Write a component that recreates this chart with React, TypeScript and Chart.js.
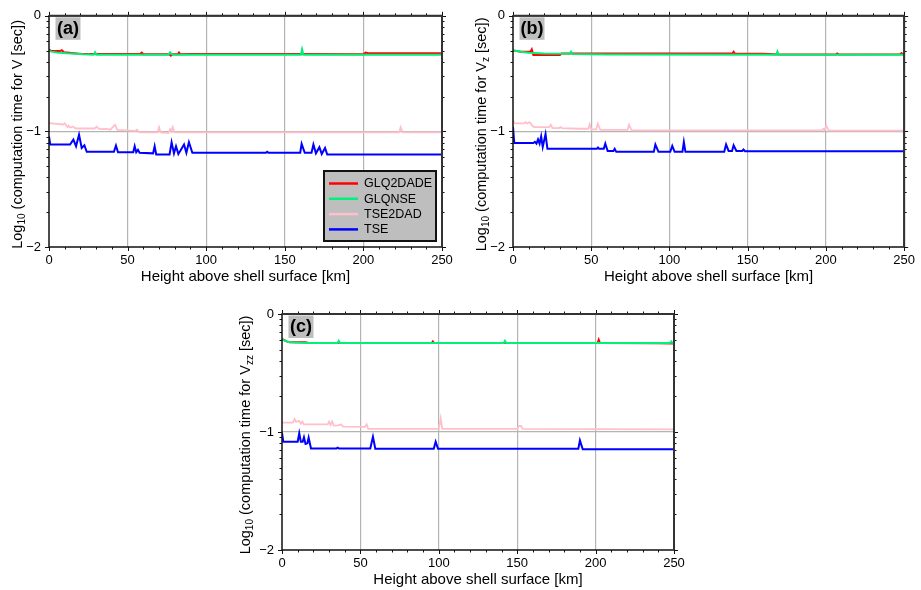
import { useEffect, useRef } from 'react';
import { Chart, registerables } from 'chart.js';

Chart.register(...registerables);

const FONT = '"Liberation Sans", Arial, Helvetica, sans-serif';

// ---------- shared labels ----------
const SERIES_LABELS = ['GLQ2DADE', 'GLQNSE', 'TSE2DAD', 'TSE'];
const SERIES_COLORS = ['#ff0000', '#00f07a', '#ffc0cb', '#0000ff'];
const SERIES_WIDTHS = [2, 2, 1.8, 2];
const SERIES_ORDER = [1, 0, 3, 2];
const X_TICKS = [0, 50, 100, 150, 200, 250];
const Y_TICKS = [0, -1, -2];
const X_TITLE = 'Height above shell surface [km]';

// ---------- panel (a): V ----------
const aGlq2dadeX = [0, 1.5, 7, 8.1, 9.5, 20.8, 58, 59, 60, 76.5, 77.5, 78.5, 82, 82.7, 83.5, 90, 160, 200, 201.5, 203, 250];
const aGlq2dadeY = [-0.293, -0.305, -0.305, -0.298, -0.315, -0.33, -0.33, -0.318, -0.333, -0.333, -0.345, -0.333, -0.333, -0.318, -0.333, -0.331, -0.331, -0.332, -0.318, -0.324, -0.324];
const aGlqnseX = [0, 1.5, 5, 11.2, 21.7, 28.5, 29.3, 30.2, 76, 77, 78.5, 160.3, 161, 161.8, 250];
const aGlqnseY = [-0.302, -0.31, -0.318, -0.325, -0.333, -0.336, -0.316, -0.336, -0.336, -0.316, -0.336, -0.336, -0.29, -0.336, -0.336];
const aTse2dadX = [0, 9, 10, 11.7, 12.5, 13.4, 15, 17, 29, 30.3, 32, 36.7, 39, 42, 43.5, 55, 56, 57.5, 69, 70, 71, 76, 77, 77.8, 78.7, 79.8, 222.8, 223.7, 225, 250];
const aTse2dadY = [-0.929, -0.94, -0.93, -0.963, -0.95, -0.968, -0.958, -0.975, -0.975, -0.96, -0.98, -0.978, -0.985, -0.943, -0.986, -0.995, -0.985, -1.009, -1.009, -0.963, -1.009, -1.015, -0.98, -1.0, -0.963, -1.009, -1.009, -0.963, -1.009, -1.009];
const aTseX = [0, 0.8, 13.4, 15.5, 17.2, 19.1, 20.8, 22.5, 24, 41.3, 42.6, 43.9, 53.6, 54.5, 55.5, 56.6, 57.6, 66.2, 67.2, 68.2, 76.7, 78, 79.5, 80.8, 82.3, 85.9, 87.4, 89, 91.2, 138, 138.8, 139.6, 159.8, 160.7, 162.7, 167, 168.2, 169.8, 172, 173.5, 175.6, 177, 250];
const aTseY = [-1.043, -1.114, -1.114, -1.071, -1.128, -1.028, -1.143, -1.12, -1.177, -1.177, -1.122, -1.18, -1.18, -1.128, -1.18, -1.16, -1.185, -1.19, -1.128, -1.2, -1.2, -1.094, -1.19, -1.128, -1.195, -1.114, -1.185, -1.094, -1.185, -1.185, -1.176, -1.185, -1.185, -1.108, -1.185, -1.185, -1.114, -1.19, -1.137, -1.195, -1.143, -1.2, -1.2];

// ---------- panel (b): Vz ----------
const bGlq2dadeX = [0, 5, 11.3, 12, 13, 30, 31, 140.2, 141, 141.8, 160, 170, 206.5, 207.2, 208, 247.5, 248.3, 249, 250];
const bGlq2dadeY = [-0.3, -0.311, -0.309, -0.291, -0.34, -0.34, -0.326, -0.326, -0.311, -0.326, -0.329, -0.334, -0.334, -0.326, -0.334, -0.333, -0.323, -0.333, -0.333];
const bGlqnseX = [0, 4, 6, 10, 20, 36.3, 37.1, 38, 60, 168.3, 169, 169.8, 250];
const bGlqnseY = [-0.3, -0.306, -0.314, -0.32, -0.326, -0.329, -0.311, -0.331, -0.334, -0.337, -0.309, -0.337, -0.337];
const bTse2dadX = [0, 0.8, 7, 8, 9, 10.5, 11.5, 12.5, 13.5, 23.2, 24.2, 25.3, 29.3, 30.3, 31.3, 42, 48.2, 49, 50, 53.2, 54.2, 55.8, 73.2, 74.2, 75.8, 197.5, 198.3, 199.2, 200.2, 201.8, 250];
const bTse2dadY = [-0.897, -0.931, -0.931, -0.92, -0.931, -0.92, -0.935, -0.954, -0.963, -0.963, -0.943, -0.971, -0.971, -0.963, -0.971, -0.977, -0.977, -0.94, -0.983, -0.983, -0.934, -0.986, -0.986, -0.943, -0.991, -0.991, -0.977, -0.989, -0.949, -0.994, -0.994];
const bTseX = [0, 0.8, 13, 14, 15, 16, 17, 18, 19, 20.8, 22, 53.5, 54.3, 55, 58, 59, 60.5, 64.2, 65, 66, 90, 91, 93, 100.5, 101.8, 103.3, 108.3, 109.2, 110.2, 135, 136.2, 137.8, 140, 141, 142.8, 146.5, 147.3, 148.3, 250];
const bTseY = [-0.963, -1.1, -1.1, -1.09, -1.106, -1.069, -1.106, -1.043, -1.134, -1.023, -1.151, -1.151, -1.14, -1.151, -1.151, -1.106, -1.169, -1.169, -1.151, -1.177, -1.177, -1.114, -1.177, -1.177, -1.126, -1.177, -1.177, -1.091, -1.177, -1.177, -1.114, -1.169, -1.169, -1.12, -1.169, -1.169, -1.157, -1.171, -1.171];

// ---------- panel (c): Vzz ----------
const cGlq2dadeX = [0, 3, 5, 15, 17, 35.5, 36.2, 37, 95.5, 96.2, 97, 141.5, 142.2, 143, 201.3, 202, 202.8, 240, 250];
const cGlq2dadeY = [-0.212, -0.232, -0.24, -0.24, -0.246, -0.246, -0.24, -0.246, -0.246, -0.232, -0.246, -0.246, -0.24, -0.246, -0.246, -0.218, -0.246, -0.248, -0.25];
const cGlqnseX = [0, 2, 4, 8, 15, 35.5, 36.2, 37, 141.5, 142.2, 143, 247.5, 248.3, 249, 250];
const cGlqnseY = [-0.212, -0.227, -0.238, -0.241, -0.246, -0.246, -0.227, -0.246, -0.246, -0.227, -0.246, -0.246, -0.232, -0.246, -0.246];
const cTse2dadX = [0, 7, 8, 9, 11, 12, 13, 14, 29.2, 30, 31, 32, 33, 36, 37.5, 39, 53, 54, 55, 100, 101.2, 102.2, 150.2, 151, 152.5, 153.5, 250];
const cTse2dadY = [-0.921, -0.921, -0.89, -0.915, -0.906, -0.929, -0.912, -0.935, -0.935, -0.912, -0.94, -0.912, -0.946, -0.943, -0.935, -0.955, -0.957, -0.935, -0.974, -0.974, -0.884, -0.974, -0.974, -0.949, -0.949, -0.974, -0.977];
const cTseX = [0, 0.8, 10, 11, 12, 13.2, 14, 15, 16.2, 17, 18.5, 34.8, 35.5, 36.3, 56.3, 58, 59.5, 96.8, 98, 99.5, 189, 190, 191.8, 250];
const cTseY = [-1.006, -1.082, -1.082, -1.011, -1.082, -1.082, -1.045, -1.102, -1.096, -1.048, -1.139, -1.139, -1.133, -1.139, -1.139, -1.04, -1.142, -1.142, -1.082, -1.142, -1.142, -1.071, -1.147, -1.147];

type Seg = { t: string; sub?: boolean };
type PanelCfg = {
  left: number; top: number; w: number; h: number;
  area: { l: number; t: number; r: number; b: number };
  label: string;
  yTitle: Seg[];
  yTitleOffset: number;
  legend: boolean;
  series: [number[], number[]][];
};

const PANELS: PanelCfg[] = [
  {
    left: 0, top: 0, w: 460, h: 295,
    area: { l: 49, t: 13, r: 442, b: 247 },
    label: '(a)',
    yTitle: [{ t: 'Log' }, { t: '10', sub: true }, { t: ' (computation time for V [sec])' }],
    yTitleOffset: 33,
    legend: true,
    series: [[aGlq2dadeX, aGlq2dadeY], [aGlqnseX, aGlqnseY], [aTse2dadX, aTse2dadY], [aTseX, aTseY]],
  },
  {
    left: 460, top: 0, w: 461, h: 295,
    area: { l: 53, t: 13, r: 446, b: 247 },
    label: '(b)',
    yTitle: [{ t: 'Log' }, { t: '10', sub: true }, { t: ' (computation time for V' }, { t: 'z', sub: true }, { t: ' [sec])' }],
    yTitleOffset: 33,
    legend: false,
    series: [[bGlq2dadeX, bGlq2dadeY], [bGlqnseX, bGlqnseY], [bTse2dadX, bTse2dadY], [bTseX, bTseY]],
  },
  {
    left: 220, top: 295, w: 480, h: 295,
    area: { l: 62, t: 19, r: 454, b: 255 },
    label: '(c)',
    yTitle: [{ t: 'Log' }, { t: '10', sub: true }, { t: ' (computation time for V' }, { t: 'zz', sub: true }, { t: ' [sec])' }],
    yTitleOffset: 38,
    legend: false,
    series: [[cGlq2dadeX, cGlq2dadeY], [cGlqnseX, cGlqnseY], [cTse2dadX, cTse2dadY], [cTseX, cTseY]],
  },
];

function makeFramePlugin(cfg: PanelCfg) {
  return {
    id: 'gmtFrame',
    afterDraw(chart: any) {
      const { ctx, chartArea: ca, scales } = chart;
      const xs = scales.x;
      const ys = scales.y;
      ctx.save();
      const line = (x1: number, y1: number, x2: number, y2: number) => {
        ctx.beginPath();
        ctx.moveTo(x1, y1);
        ctx.lineTo(x2, y2);
        ctx.stroke();
      };
      // ticks
      ctx.strokeStyle = '#111';
      ctx.lineWidth = 1;
      for (let v = 0; v <= 250; v += 10) {
        const px = Math.round(xs.getPixelForValue(v)) + 0.5;
        const len = v % 50 === 0 ? 4 : 2.5;
        line(px, ca.bottom, px, ca.bottom + len);
        line(px, ca.top, px, ca.top - len);
      }
      const yVals: [number, boolean][] = [[0, true]];
      for (let d = -2; d < 0; d++) {
        for (let k = 1; k <= 9; k++) yVals.push([d + Math.log10(k), k === 1]);
      }
      for (const [v, major] of yVals) {
        const py = Math.round(ys.getPixelForValue(v)) + 0.5;
        const len = major ? 4 : 2.5;
        line(ca.left - len, py, ca.left, py);
        line(ca.right, py, ca.right + len, py);
      }
      // frame
      ctx.strokeStyle = '#111';
      ctx.lineWidth = 1.5;
      ctx.strokeRect(ca.left, ca.top, ca.right - ca.left, ca.bottom - ca.top);
      ctx.strokeStyle = '#333';
      ctx.lineWidth = 2;
      line(ca.left, ca.top, ca.right, ca.top);
      line(ca.right, ca.top, ca.right, ca.bottom);

      // panel label
      const bx = ca.left + 6.5;
      const by = ca.top + 1.5;
      ctx.fillStyle = '#bebebe';
      ctx.fillRect(bx, by, 25, 22.5);
      ctx.fillStyle = '#000';
      ctx.font = `bold 18px ${FONT}`;
      ctx.textAlign = 'center';
      ctx.textBaseline = 'middle';
      ctx.fillText(cfg.label, bx + 12.5, by + 11.5);

      // legend
      if (cfg.legend) {
        const lw = 112, lh = 70;
        const lx = ca.right - 6 - lw;
        const ly = ca.bottom - 6 - lh;
        ctx.fillStyle = '#bebebe';
        ctx.fillRect(lx, ly, lw, lh);
        ctx.strokeStyle = '#111';
        ctx.lineWidth = 2;
        ctx.strokeRect(lx, ly, lw, lh);
        ctx.font = `12.5px ${FONT}`;
        ctx.textAlign = 'left';
        ctx.textBaseline = 'middle';
        SERIES_LABELS.forEach((lab, i) => {
          const yy = ly + 12.5 + i * 15.3;
          ctx.strokeStyle = SERIES_COLORS[i];
          ctx.lineWidth = 2.5;
          line(lx + 5, yy, lx + 34, yy);
          ctx.fillStyle = '#000';
          ctx.fillText(lab, lx + 40, yy + 0.5);
        });
      }

      // x title
      ctx.fillStyle = '#000';
      ctx.font = `15px ${FONT}`;
      ctx.textAlign = 'center';
      ctx.textBaseline = 'middle';
      ctx.fillText(X_TITLE, (ca.left + ca.right) / 2, ca.bottom + 30);

      // y title with subscripts
      const mainFont = `14.5px ${FONT}`;
      const subFont = `10px ${FONT}`;
      let total = 0;
      const widths = cfg.yTitle.map((s) => {
        ctx.font = s.sub ? subFont : mainFont;
        const w = ctx.measureText(s.t).width;
        total += w;
        return w;
      });
      ctx.translate(ca.left - cfg.yTitleOffset, (ca.top + ca.bottom) / 2 + 3);
      ctx.rotate(-Math.PI / 2);
      ctx.textAlign = 'left';
      ctx.textBaseline = 'alphabetic';
      let cx = -total / 2;
      cfg.yTitle.forEach((s, i) => {
        ctx.font = s.sub ? subFont : mainFont;
        ctx.fillText(s.t, cx, s.sub ? 8.5 : 5.5);
        cx += widths[i];
      });
      ctx.restore();
    },
  };
}

function Panel({ cfg }: { cfg: PanelCfg }) {
  const ref = useRef<HTMLCanvasElement>(null);
  useEffect(() => {
    const canvas = ref.current;
    if (!canvas) return;
    const { area, w, h } = cfg;
    const chart = new Chart(canvas, {
      type: 'line',
      data: {
        datasets: cfg.series.map(([xs, ys], i) => ({
          label: SERIES_LABELS[i],
          data: xs.map((x, j) => ({ x, y: ys[j] })),
          borderColor: SERIES_COLORS[i],
          backgroundColor: SERIES_COLORS[i],
          borderWidth: SERIES_WIDTHS[i],
          pointRadius: 0,
          tension: 0,
          fill: false,
          order: SERIES_ORDER[i],
        })),
      },
      options: {
        animation: false,
        responsive: false,
        devicePixelRatio: 1,
        layout: { padding: { top: area.t, right: w - area.r, left: 0, bottom: 0 } },
        plugins: { legend: { display: false }, tooltip: { enabled: false } },
        scales: {
          x: {
            type: 'linear',
            min: 0,
            max: 250,
            afterFit: (s: any) => { s.height = h - area.b; },
            afterBuildTicks: (s: any) => { s.ticks = X_TICKS.map((v) => ({ value: v })); },
            ticks: { font: { family: FONT, size: 13 }, color: '#000', padding: 6, maxRotation: 0, autoSkip: false },
            grid: {
              drawTicks: false,
              lineWidth: 1.2,
              color: (c: any) => (c.tick && c.tick.value > 0 && c.tick.value < 250 ? '#b4b4b4' : 'rgba(0,0,0,0)'),
            },
            border: { display: false },
          },
          y: {
            type: 'linear',
            min: -2,
            max: 0,
            afterFit: (s: any) => { s.width = area.l; },
            afterBuildTicks: (s: any) => { s.ticks = Y_TICKS.map((v) => ({ value: v })); },
            ticks: {
              font: { family: FONT, size: 13 },
              color: '#000',
              padding: 8,
              autoSkip: false,
              callback: (v: any) => (Number(v) === 0 ? '0' : '\u2212' + Math.abs(Number(v))),
            },
            grid: {
              drawTicks: false,
              lineWidth: 1.2,
              color: (c: any) => (c.tick && c.tick.value === -1 ? '#b4b4b4' : 'rgba(0,0,0,0)'),
            },
            border: { display: false },
          },
        },
      },
      plugins: [makeFramePlugin(cfg)],
    } as any);
    return () => chart.destroy();
  }, [cfg]);
  return (
    <canvas
      ref={ref}
      width={cfg.w}
      height={cfg.h}
      style={{ position: 'absolute', left: cfg.left, top: cfg.top, width: cfg.w, height: cfg.h }}
    />
  );
}

export default function App() {
  return (
    <div style={{ position: 'absolute', left: 0, top: 0, width: 921, height: 590, background: '#fff' }}>
      {PANELS.map((p) => (
        <Panel key={p.label} cfg={p} />
      ))}
    </div>
  );
}
